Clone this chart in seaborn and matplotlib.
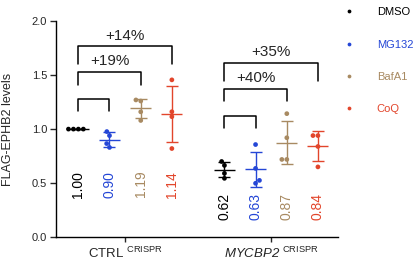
import numpy as np
import pandas as pd
import matplotlib
matplotlib.use("Agg")
import matplotlib.pyplot as plt
import seaborn as sns

# Data
groups = ["CTRL", "MYCBP2"]
group_labels = [r"CTRL $^{\rm CRISPR}$", r"$\mathsf{MYCBP2}$ $^{\rm CRISPR}$"]
conditions = ["DMSO", "MG132", "BafA1", "CoQ"]
colors = ["#000000", "#2446d6", "#a88a62", "#e2452b"]

ctrl_dmso = [1.00, 1.00, 1.00, 1.00]
ctrl_mg132 = [0.977, 0.94, 0.866, 0.83]
ctrl_bafa1 = [1.26, 1.27, 1.16, 1.08]
ctrl_coq = [1.456, 1.161, 1.115, 0.82]
myc_dmso = [0.664, 0.70, 0.59, 0.544]
myc_mg132 = [0.857, 0.636, 0.498, 0.525]
myc_bafa1 = [1.143, 0.92, 0.719, 0.719]
myc_coq = [0.94, 0.94, 0.839, 0.65]

ctrl_means = ["1.00", "0.90", "1.19", "1.14"]
myc_means = ["0.62", "0.63", "0.87", "0.84"]

# percent change brackets: (group, target condition, label)
comparisons = [
    ("CTRL", "MG132", ""),
    ("CTRL", "BafA1", "+19%"),
    ("CTRL", "CoQ", "+14%"),
    ("MYCBP2", "MG132", ""),
    ("MYCBP2", "BafA1", "+40%"),
    ("MYCBP2", "CoQ", "+35%"),
]

# build long table
values = {
    ("CTRL", "DMSO"): ctrl_dmso, ("CTRL", "MG132"): ctrl_mg132,
    ("CTRL", "BafA1"): ctrl_bafa1, ("CTRL", "CoQ"): ctrl_coq,
    ("MYCBP2", "DMSO"): myc_dmso, ("MYCBP2", "MG132"): myc_mg132,
    ("MYCBP2", "BafA1"): myc_bafa1, ("MYCBP2", "CoQ"): myc_coq,
}
offsets = dict(zip(conditions, [-0.32, -0.107, 0.107, 0.32]))
rows = []
for (g, c), vals in values.items():
    for v in vals:
        rows.append({"group": g, "cond": c, "value": v,
                     "x": groups.index(g) + offsets[c]})
df = pd.DataFrame(rows)

sns.set_theme(style="ticks")
plt.rcParams["font.family"] = ["Liberation Sans", "DejaVu Sans"]
plt.rcParams["mathtext.fontset"] = "custom"
plt.rcParams["mathtext.rm"] = "Liberation Sans"
plt.rcParams["mathtext.it"] = "Liberation Sans:italic"
plt.rcParams["mathtext.sf"] = "Liberation Sans:italic"

fig = plt.figure(figsize=(4.15, 2.64), dpi=100)
ax = fig.add_axes([0.135, 0.102, 0.68, 0.818])

palette = dict(zip(conditions, colors))
sns.swarmplot(data=df, x="x", y="value", hue="cond", hue_order=conditions,
              palette=palette, native_scale=True, orient="x", size=3.4,
              ax=ax, zorder=3)

# mean +/- SD
stats = df.groupby(["group", "cond"])["value"].agg(["mean", "std"]).reset_index()
for _, r in stats.iterrows():
    xpos = groups.index(r["group"]) + offsets[r["cond"]]
    col = palette[r["cond"]]
    ax.errorbar(xpos, r["mean"], yerr=r["std"], color=col, capsize=4.2,
                elinewidth=1.0, capthick=1.0, fmt="none", zorder=2)
    ax.hlines(r["mean"], xpos - 0.072, xpos + 0.072, color=col, lw=1.0, zorder=2)

# mean value labels
for gi, labels, ytxt in [(0, ctrl_means, 0.49), (1, myc_means, 0.285)]:
    for c, lab in zip(conditions, labels):
        ax.text(gi + offsets[c], ytxt, lab, rotation=90, ha="center", va="center",
                color=palette[c], fontsize=10)

# brackets
bracket_levels = {"MG132": (1.28, 1.17), "BafA1": (1.53, 1.41), "CoQ": (1.765, 1.60)}
bracket_levels_myc = {"MG132": (1.124, 1.01), "BafA1": (1.37, 1.26), "CoQ": (1.61, 1.45)}
for g, c, lab in comparisons:
    gi = groups.index(g)
    top, leg = (bracket_levels if g == "CTRL" else bracket_levels_myc)[c]
    x0 = gi + offsets["DMSO"]
    x1 = gi + offsets[c]
    ax.plot([x0, x0, x1, x1], [leg, top, top, leg], color="black", lw=1.1,
            clip_on=False)
    if lab:
        ax.text((x0 + x1) / 2, top + 0.1, lab, ha="center", va="center",
                fontsize=11)

ax.set_xlim(-0.473, 1.459)
ax.set_ylim(0, 2.0)
ax.set_yticks([0, 0.5, 1.0, 1.5, 2.0])
ax.set_yticklabels(["0.0", "0.5", "1.0", "1.5", "2.0"])
ax.set_xticks([0, 1])
ax.set_xticklabels(group_labels, fontsize=9.5)
ax.tick_params(axis="y", labelsize=8, length=4.5, width=1.0, pad=2)
ax.tick_params(axis="x", length=3.5, width=1.0, pad=3)
ax.set_xlabel("")
ax.set_ylabel("FLAG-EPHB2 levels", fontsize=9)
ax.yaxis.set_label_coords(-0.15, 0.5)
for s in ["left", "bottom"]:
    ax.spines[s].set_linewidth(1.0)
    ax.spines[s].set_color("black")
sns.despine(ax=ax)

# legend at right
handles, labels = ax.get_legend_handles_labels()
ax.get_legend().remove()
leg = fig.legend(handles, labels, loc="upper left", bbox_to_anchor=(0.79, 1.01),
                 frameon=False, fontsize=8, labelspacing=2.0, handletextpad=1.5,
                 markerscale=0.8)
for t, c in zip(leg.get_texts(), colors):
    t.set_color(c)

fig.savefig("out.png", dpi=100)
